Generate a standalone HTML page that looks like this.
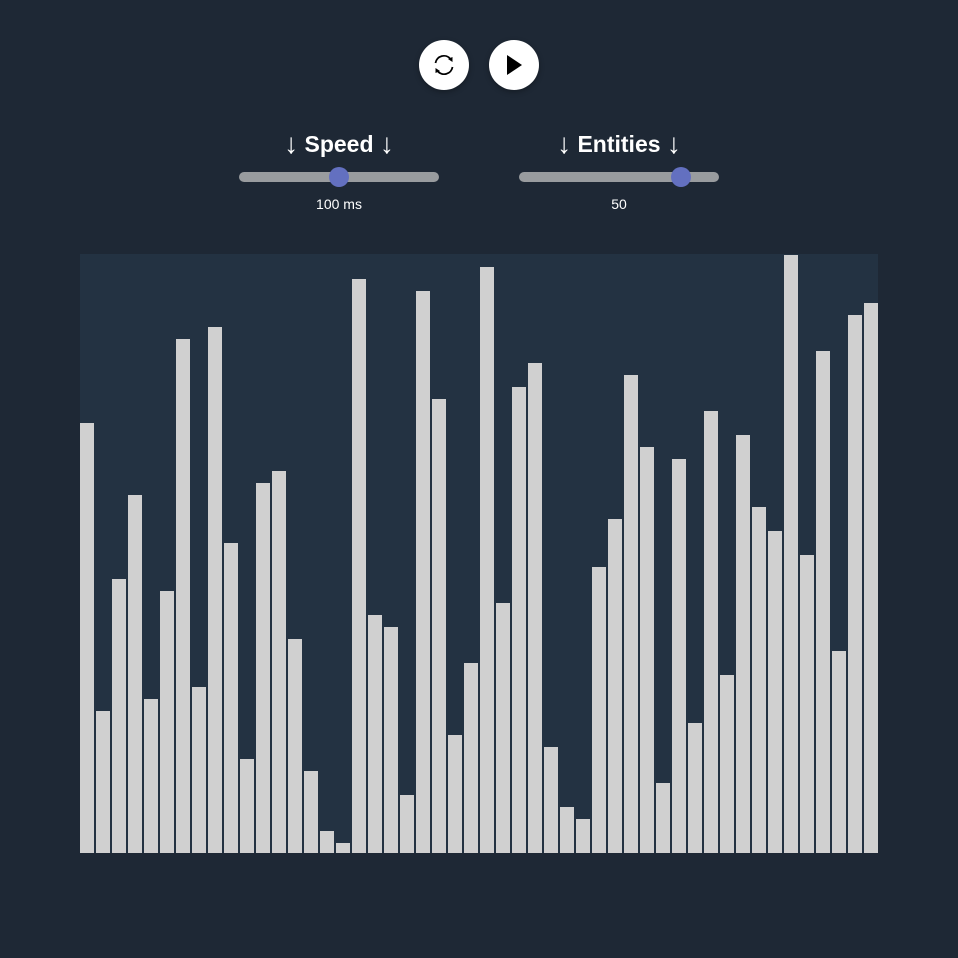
<!DOCTYPE html>
<html><head><meta charset="utf-8"><style>
body{margin:0;width:958px;height:958px;background:#1e2835;font-family:"Liberation Sans",sans-serif;color:#fff;position:relative;overflow:hidden}
.btn{position:absolute;top:40px;width:50px;height:50px;border-radius:50%;background:#fff;box-shadow:0 2px 6px rgba(0,0,0,.3)}
.lbl{position:absolute;top:128px;height:32px;line-height:32px;font-size:23px;font-weight:bold;text-align:center;width:200px}
.lbl span{font-weight:normal;font-size:28px;vertical-align:top}
.track{position:absolute;top:172px;width:200px;height:10px;border-radius:5px;background:#999c9f}
.thumb{position:absolute;top:-5px;width:20px;height:20px;border-radius:50%;background:#6370c0}
.val{position:absolute;top:196px;width:200px;text-align:center;font-size:14px}
#chart{position:absolute;left:80px;top:254px;width:798px;height:599px;background:#233242}
</style></head><body>
<div class="btn" style="left:419px">
<svg width="50" height="50" viewBox="0 0 50 50"><path d="M16.5 23a8.5 8.5 0 0 1 15-4" fill="none" stroke="#000" stroke-width="1.8"/><path d="M33.5 27a8.5 8.5 0 0 1-15 4" fill="none" stroke="#000" stroke-width="1.8"/><path d="M29 19l4.5 3l0-5z" fill="#000"/><path d="M21 31l-4.5-3l0 5z" fill="#000"/></svg></div>
<div class="btn" style="left:489px">
<svg width="50" height="50" viewBox="0 0 50 50"><path d="M18 15L33 25L18 35z" fill="#000"/></svg></div>
<div class="lbl" style="left:239px"><span>↓</span> Speed <span>↓</span></div>
<div class="track" style="left:239px"><div class="thumb" style="left:90px"></div></div>
<div class="val" style="left:239px">100 ms</div>
<div class="lbl" style="left:519px"><span>↓</span> Entities <span>↓</span></div>
<div class="track" style="left:519px"><div class="thumb" style="left:152px"></div></div>
<div class="val" style="left:519px">50</div>
<svg id="chart" width="798" height="599"></svg>
<script>
const values=[36,12,23,30,13,22,43,14,44,26,8,31,32,18,7,2,1,48,20,19,5,47,38,10,16,49,21,39,41,9,4,3,24,28,40,34,6,33,11,37,15,35,29,27,50,25,42,17,45,46];
const maxValue=50;
const svg=document.getElementById('chart');
const W=798,H=599,step=16;
function xPos(i){return i*step;}
function yH(v){return v/maxValue*600-2;}
values.forEach((v,i)=>{
  const r=document.createElementNS('http://www.w3.org/2000/svg','rect');
  const h=yH(v);
  r.setAttribute('x',xPos(i));r.setAttribute('y',H-h);
  r.setAttribute('width',14);r.setAttribute('height',h);
  r.setAttribute('fill','#d0d0d0');
  
  
  svg.appendChild(r);
});
</script>
</body></html>
